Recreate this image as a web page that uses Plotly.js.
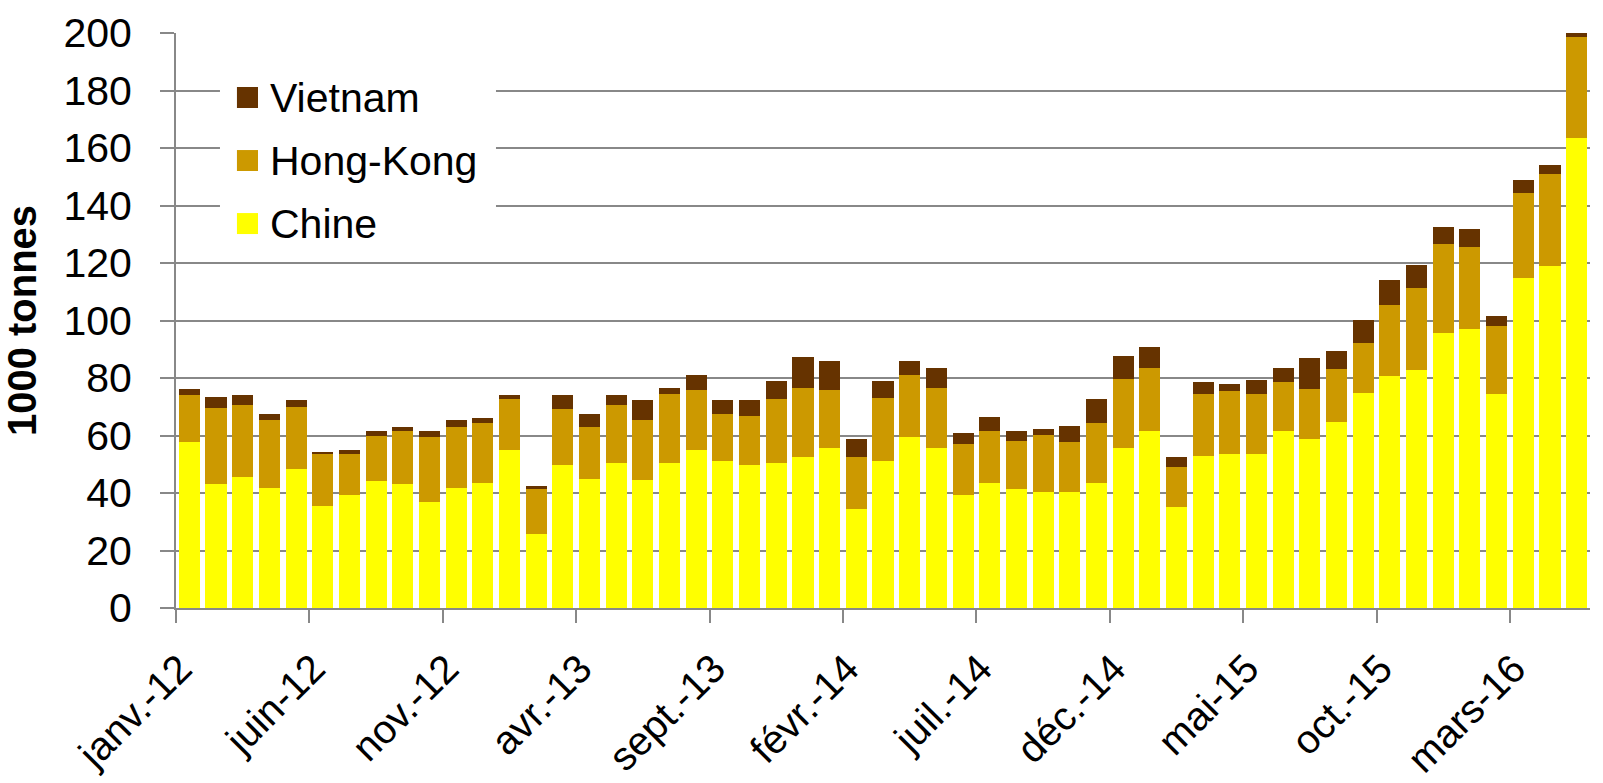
<!DOCTYPE html>
<html>
<head>
<meta charset="utf-8">
<script src="https://cdn.plot.ly/plotly-3.0.1.min.js"></script>
<style>html,body{margin:0;padding:0;background:#fff;}#chart{width:1603px;height:783px;}</style>
</head>
<body>
<div id="chart"></div>
<script>
// Monthly categories (janv.-12 ... mai-16)
const months = [
  'janv.-12','févr.-12','mars-12','avr.-12','mai-12','juin-12','juil.-12','août-12','sept.-12','oct.-12','nov.-12','déc.-12',
  'janv.-13','févr.-13','mars-13','avr.-13','mai-13','juin-13','juil.-13','août-13','sept.-13','oct.-13','nov.-13','déc.-13',
  'janv.-14','févr.-14','mars-14','avr.-14','mai-14','juin-14','juil.-14','août-14','sept.-14','oct.-14','nov.-14','déc.-14',
  'janv.-15','févr.-15','mars-15','avr.-15','mai-15','juin-15','juil.-15','août-15','sept.-15','oct.-15','nov.-15','déc.-15',
  'janv.-16','févr.-16','mars-16','avr.-16','mai-16'
];
// Tick labels shown on the axis
const tickLabels = ['janv.-12','juin-12','nov.-12','avr.-13','sept.-13','févr.-14','juil.-14','déc.-14','mai-15','oct.-15','mars-16'];

// Series (1000 tonnes)
const chine = [57.6,43.0,45.4,41.6,48.2,35.4,39.2,44.1,43.0,36.8,41.6,43.4,55.1,25.7,49.6,44.8,50.6,44.4,50.6,55.1,
  51.3,49.6,50.3,52.4,55.8,34.4,51.0,59.6,55.8,39.2,43.4,41.3,40.3,40.3,43.4,55.8,61.7,35.1,52.7,53.4,
  53.7,61.4,58.9,64.6,74.7,80.8,82.9,95.7,97.1,74.5,114.7,118.9,163.6];
const hongKong = [16.6,26.7,25.3,23.9,21.8,18.3,14.5,15.9,18.7,22.8,21.5,21.1,17.7,15.6,19.7,18.3,20.1,21.1,23.9,20.8,
  16.3,17.3,22.5,24.2,20.1,18.0,22.1,21.5,20.8,18.0,18.0,16.9,20.0,17.3,21.1,23.9,21.8,13.8,21.8,22.1,
  20.8,17.3,17.2,18.4,17.6,24.6,28.3,30.8,28.4,23.6,29.5,32.2,35.0];
const vietnam = [2.0,3.8,3.5,2.1,2.4,0.7,1.4,1.4,1.4,2.1,2.4,1.7,1.4,1.0,4.9,4.5,3.5,6.9,2.1,5.2,
  4.8,5.5,6.2,10.7,10.0,6.5,5.9,4.8,6.9,3.5,5.2,3.2,1.8,5.8,8.3,8.0,7.3,3.5,4.2,2.5,
  4.9,4.8,11.0,6.3,8.0,8.6,8.0,5.9,6.2,3.4,4.5,3.1,1.4];

const seriesNames = ['Chine','Hong-Kong','Vietnam'];
const seriesColors = ['#FFFF00','#CC9900','#663300'];
const seriesValues = [chine, hongKong, vietnam];

const xIdx = months.map((m, i) => i);
const traces = seriesValues.map((vals, k) => ({
  type: 'bar',
  name: seriesNames[k],
  x: xIdx,
  y: vals,
  hovertext: months,
  textposition: 'none',
  marker: {color: seriesColors[k], line: {width: 0}},
  hoverinfo: 'text+y+name',
  showlegend: false
}));

const FONT = 'Liberation Sans, Arial, sans-serif';
const tickVals = tickLabels.map(l => months.indexOf(l) - 0.5);

// Legend drawn manually (swatch + label), top to bottom: Vietnam, Hong-Kong, Chine
const legendOrder = [2, 1, 0];
const legTop = 0.8878, legStep = 0.1096, sw = 0.0365;
const shapes = [{
  type: 'rect', xref: 'paper', yref: 'paper', x0: 0.0311, x1: 0.2263, y0: 0.6226, y1: 0.953,
  fillcolor: '#FFFFFF', line: {width: 0}, layer: 'above'
}];
const annotations = [];
legendOrder.forEach((k, r) => {
  const yc = legTop - r * legStep;
  shapes.push({type: 'rect', xref: 'paper', yref: 'paper', x0: 0.0431, x1: 0.0580,
    y0: yc - sw / 2, y1: yc + sw / 2, fillcolor: seriesColors[k], line: {width: 0}, layer: 'above'});
  annotations.push({xref: 'paper', yref: 'paper', x: 0.065, y: yc, xanchor: 'left', yanchor: 'middle',
    text: seriesNames[k], showarrow: false, font: {family: FONT, size: 41, color: '#000'}});
});

const layout = {
  width: 1603, height: 783,
  margin: {l: 176, r: 13, t: 33, b: 175},
  paper_bgcolor: '#FFFFFF', plot_bgcolor: '#FFFFFF',
  barmode: 'stack', bargap: 0.21,
  showlegend: false,
  xaxis: {
    type: 'linear', range: [-0.5, months.length - 0.5],
    tickmode: 'array', tickvals: tickVals, ticktext: tickLabels, tickangle: -45,
    ticks: 'outside', ticklen: 13, tickwidth: 2, tickcolor: '#888888',
    showline: true, linecolor: '#888888', linewidth: 2,
    showgrid: false, zeroline: false,
    ticklabelstandoff: 6, ticklabelshift: 4,
    tickfont: {family: FONT, size: 40, color: '#000'}
  },
  yaxis: {
    range: [0, 200], tick0: 0, dtick: 20,
    ticks: 'outside', ticklen: 14, tickwidth: 2, tickcolor: '#888888',
    showline: true, linecolor: '#888888', linewidth: 2,
    showgrid: true, gridcolor: '#888888', gridwidth: 2, zeroline: false,
    ticklabelstandoff: 20,
    tickfont: {family: FONT, size: 41, color: '#000'},
    title: {text: '1000 tonnes', standoff: 16, font: {family: FONT, size: 40, color: '#000', weight: 'bold'}}
  },
  shapes: shapes,
  annotations: annotations
};

Plotly.newPlot('chart', traces, layout, {displayModeBar: false, responsive: false});
</script>
</body>
</html>
